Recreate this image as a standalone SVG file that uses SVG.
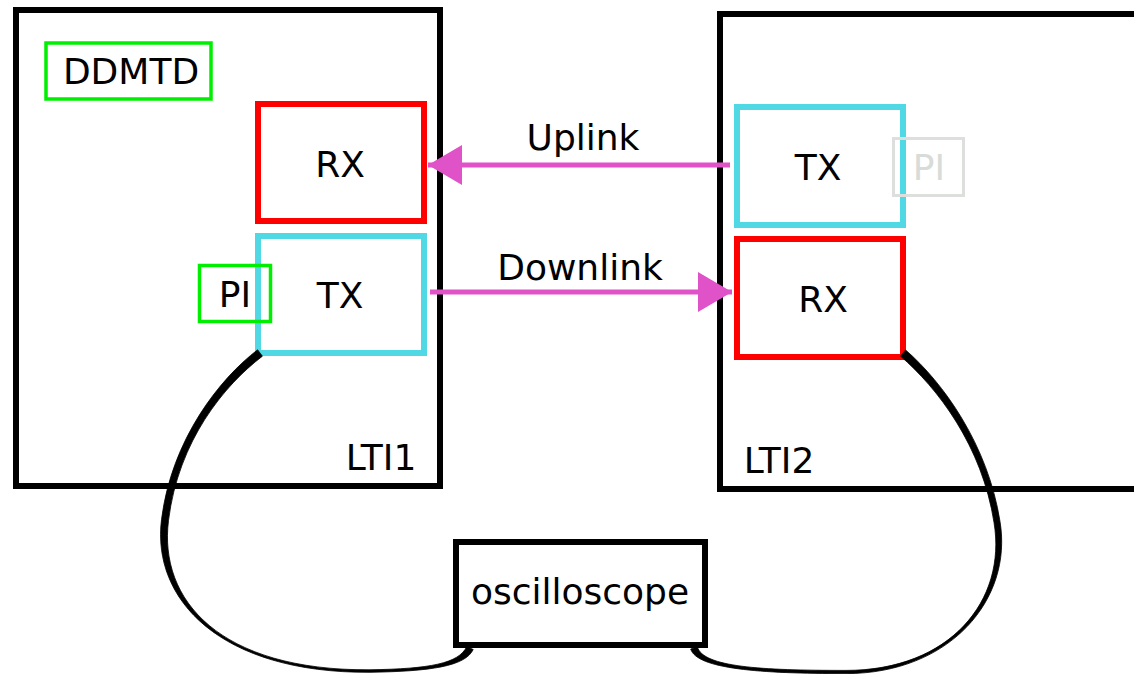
<svg xmlns="http://www.w3.org/2000/svg" width="1134" height="674" viewBox="0 0 1134 674">
<defs>
<style>
text{font-family:"DejaVu Sans","Liberation Sans",sans-serif;font-size:36px;fill:#000;text-anchor:middle}
.frame{fill:none;stroke:#000;stroke-width:6}
.rx{fill:none;stroke:#ff0000;stroke-width:6}
.tx{fill:none;stroke:#50d8e4;stroke-width:6}
.grn{fill:none;stroke:#00ee00;stroke-width:3.5}
.ghost{fill:none;stroke:#dcdfdc;stroke-width:3}
.link{fill:none;stroke:#e052c8;stroke-width:5}
.cable{fill:#000;stroke:#000;stroke-width:0.8;stroke-linejoin:round}
</style>
<marker id="ah" markerUnits="userSpaceOnUse" markerWidth="36" markerHeight="40" refX="34" refY="20" orient="auto">
<path d="M0,0 L34,20 L0,40 Z" fill="#e052c8"/>
</marker>
</defs>
<rect width="1134" height="674" fill="#fff"/>
<g id="LTI1">
<rect class="frame" x="16" y="10" width="424" height="476"/>
<text x="381" y="470">LTI1</text>
</g>
<g id="LTI2">
<rect class="frame" x="720" y="14" width="430" height="475"/>
<text x="779" y="473">LTI2</text>
</g>
<g id="DDMTD">
<rect class="grn" x="46" y="43" width="165" height="56" stroke-width="4"/>
<text x="131" y="84">DDMTD</text>
</g>
<g id="RX1">
<rect class="rx" x="258" y="104" width="166" height="117"/>
<text x="340" y="177">RX</text>
</g>
<g id="TX1">
<rect class="tx" x="258" y="236" width="166" height="117"/>
<text x="340" y="308">TX</text>
</g>
<g id="PI1">
<rect class="grn" x="199.5" y="265.5" width="71" height="56"/>
<text x="235" y="307">PI</text>
</g>
<g id="TX2">
<rect class="tx" x="737" y="107" width="166" height="118"/>
<text x="818" y="180">TX</text>
</g>
<g id="PI2">
<rect class="ghost" x="893.5" y="138.5" width="70" height="57"/>
<text x="929" y="180" style="fill:#d8dcd8">PI</text>
</g>
<g id="RX2">
<rect class="rx" x="737" y="239" width="166" height="118"/>
<text x="823" y="312">RX</text>
</g>
<g id="oscilloscope">
<rect class="frame" x="456" y="542" width="249" height="103"/>
<text x="580" y="604">oscilloscope</text>
</g>
<g id="connectors">
<line class="link" x1="730" y1="165" x2="428" y2="165" marker-end="url(#ah)"/>
<text x="583" y="150">Uplink</text>
<line class="link" x1="430" y1="292" x2="732" y2="292" marker-end="url(#ah)"/>
<text x="580" y="280">Downlink</text>
<path id="cableL" class="cable" d="M 262.4 356.2 C 224.4 385.2, 178.5 440.4, 168.5 520.4 C 158.5 600.4, 220 670.8, 370 669.8 C 430 668.8, 458.8 663.5, 466.8 646.5 L 473.2 649.5 C 465.2 666.5, 430 671.3, 370 672.3 C 220 673.3, 151.5 599.6, 161.5 519.6 C 171.5 439.6, 219.6 378.8, 257.6 349.8 Z"/>
<path id="cableR" class="cable" d="M 905.6 350 C 942.6 382, 988 444.5, 1000 521.5 C 1013 599.5, 950 673.6, 846 673.6 C 760 673.6, 696.7 669, 690.7 649 L 697.4 647 C 703.4 667, 760 670.4, 846 670.4 C 950 670.4, 1007 600.5, 994 522.5 C 982 445.5, 937.4 388, 900.4 356 Z"/>
</g>
</svg>
